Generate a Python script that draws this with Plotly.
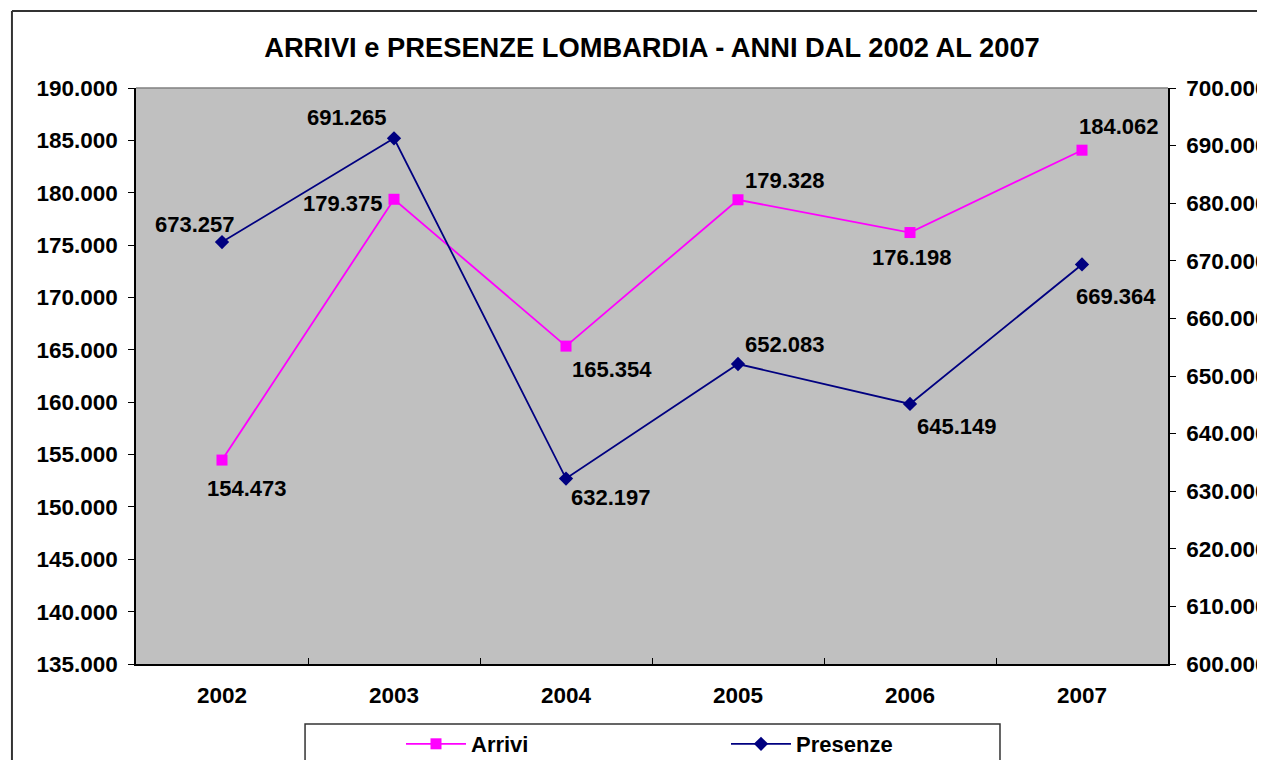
import plotly.graph_objects as go

years = ["2002", "2003", "2004", "2005", "2006", "2007"]
arrivi = [154473, 179375, 165354, 179328, 176198, 184062]
presenze = [673257, 691265, 632197, 652083, 645149, 669364]

left_ticks = list(range(135000, 190001, 5000))
right_ticks = list(range(600000, 700001, 10000))

# label offsets (pixels) for data labels
arrivi_shift = [(25, -28), (-51, -4), (46, -23), (47, 19), (2, -25), (37, 24)]
presenze_shift = [(-27, 18), (-47, 21), (45, -19), (47, 20), (47, -23), (34, -32)]

FONT = "Liberation Sans, Arial, sans-serif"

def fmt(v):
    return f"{v:,}".replace(",", ".")

fig = go.Figure()
fig.add_trace(go.Scatter(
    x=years, y=arrivi, name="Arrivi", mode="lines+markers",
    line=dict(color="#FF00FF", width=1.8),
    marker=dict(symbol="square", size=11, color="#FF00FF"),
    yaxis="y",
))
fig.add_trace(go.Scatter(
    x=years, y=presenze, name="Presenze", mode="lines+markers",
    line=dict(color="#000080", width=1.8),
    marker=dict(symbol="diamond", size=11, color="#000080"),
    yaxis="y2",
))

annotations = []
for i, (v, (dx, dy)) in enumerate(zip(arrivi, arrivi_shift)):
    annotations.append(dict(x=i, y=v, xref="x", yref="y", text=fmt(v), showarrow=False,
                            xshift=dx, yshift=dy,
                            font=dict(family=FONT, size=22, color="black", weight="bold")))
for i, (v, (dx, dy)) in enumerate(zip(presenze, presenze_shift)):
    annotations.append(dict(x=i, y=v, xref="x", yref="y2", text=fmt(v), showarrow=False,
                            xshift=dx, yshift=dy,
                            font=dict(family=FONT, size=22, color="black", weight="bold")))

# paper-coordinate helpers (plot area 1032 x 576)
FX0, FY1 = -0.1202, 1.1337      # outer frame left / top
FXR, FYB = 1.15, -0.20          # beyond window right / bottom edges
LX0, LX1, LY1 = 0.1638, 0.8372, -0.1042  # legend box

shapes = [
    # outer chart frame (top + left; right/bottom lie beyond the window)
    dict(type="line", xref="paper", yref="paper", x0=FX0, x1=FXR, y0=FY1, y1=FY1,
         line=dict(color="#333333", width=2)),
    dict(type="line", xref="paper", yref="paper", x0=FX0, x1=FX0, y0=FYB, y1=FY1,
         line=dict(color="#333333", width=2)),
    # top border of plot area
    dict(type="line", xref="paper", yref="paper", x0=0, x1=1, y0=1, y1=1,
         line=dict(color="#808080", width=1.5)),
    # legend box (open at the bottom, cut by the window)
    dict(type="path", xref="paper", yref="paper",
         path=f"M {LX0},{FYB} L {LX0},{LY1} L {LX1},{LY1} L {LX1},{FYB}",
         line=dict(color="#333333", width=1.5)),
]

fig.update_layout(
    width=1288, height=782,
    margin=dict(l=128, r=128, t=80, b=126),
    paper_bgcolor="white", plot_bgcolor="#C0C0C0",
    separators=",.",
    font=dict(family=FONT, size=22, color="black", weight="bold"),
    title=dict(text="ARRIVI e PRESENZE LOMBARDIA - ANNI DAL 2002 AL 2007",
               x=0.5, xref="paper", xanchor="center", y=1, yref="paper",
               yanchor="bottom", pad=dict(b=31),
               font=dict(family=FONT, size=27.3, color="black", weight="bold")),
    xaxis=dict(type="category", range=[-0.5, 5.5], showline=True, linecolor="black", linewidth=1.5,
               ticks="inside", tickson="boundaries", ticklen=6, tickcolor="black",
               showgrid=False, zeroline=False, ticklabelstandoff=10,
               tickfont=dict(family=FONT, size=22.5, weight="bold")),
    yaxis=dict(range=[135000, 190000], tickvals=left_ticks, tickformat=",d",
               showline=True, linecolor="black", linewidth=1.5, ticks="outside",
               ticklen=6, tickcolor="black", showgrid=False, zeroline=False,
               ticklabelstandoff=6,
               tickfont=dict(family=FONT, size=22.5, weight="bold")),
    yaxis2=dict(range=[600000, 700000], tickvals=right_ticks, tickformat=",d",
                overlaying="y", side="right",
                showline=True, linecolor="black", linewidth=1.5, ticks="outside",
                ticklen=6, tickcolor="black", showgrid=False, zeroline=False,
                ticklabelstandoff=6,
                tickfont=dict(family=FONT, size=22.5, weight="bold")),
    legend=dict(orientation="h", x=(401 - 136) / 1032, xanchor="left",
                y=(664 - 744) / 576, yanchor="middle",
                bgcolor="rgba(0,0,0,0)", borderwidth=0,
                entrywidth=250, entrywidthmode="pixels", itemwidth=60,
                font=dict(family=FONT, size=22, weight="bold")),
    annotations=annotations,
    shapes=shapes,
    showlegend=True,
)

fig.write_html("out.html")
